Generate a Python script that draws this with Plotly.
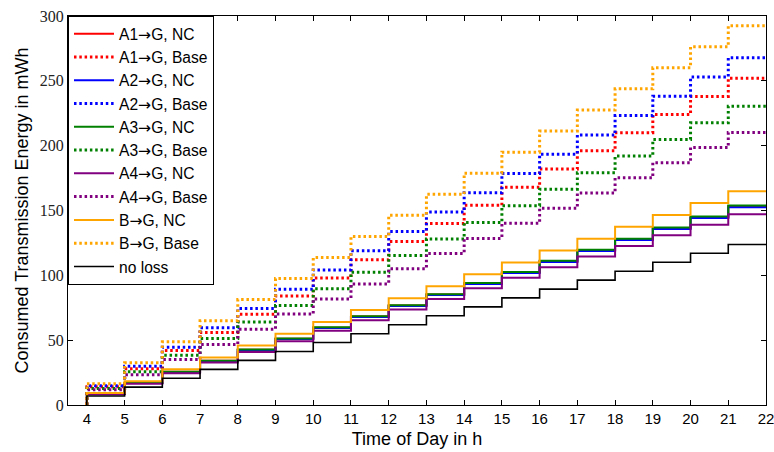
import plotly.graph_objects as go

# Hour of day at each step edge (the first entry is the start at 4 h with zero energy)
hours = [4, 5, 6, 7, 8, 9, 10, 11, 12, 13, 14, 15, 16, 17, 18, 19, 20, 21, 22]

# Cumulative consumed transmission energy in mWh, one value per hour interval
a1_nc = [0, 8.5, 17.0, 25.6, 34.1, 42.6, 51.1, 59.6, 68.2, 76.7, 85.2, 93.7, 102.2, 110.8, 119.3, 127.8, 136.3, 144.8, 153.4]
a1_base = [0, 14.0, 28.0, 42.0, 56.0, 70.0, 84.0, 98.0, 112.0, 126.0, 140.0, 154.0, 168.0, 182.0, 196.0, 210.0, 224.0, 238.0, 252.0]
a2_nc = [0, 8.5, 17.0, 25.4, 33.9, 42.4, 50.9, 59.4, 67.8, 76.3, 84.8, 93.3, 101.8, 110.2, 118.7, 127.2, 135.7, 144.2, 152.6]
a2_base = [0, 14.9, 29.8, 44.6, 59.5, 74.4, 89.3, 104.2, 119.0, 133.9, 148.8, 163.7, 178.6, 193.4, 208.3, 223.2, 238.1, 253.0, 267.8]
a3_nc = [0, 8.6, 17.1, 25.7, 34.2, 42.8, 51.3, 59.9, 68.4, 77.0, 85.5, 94.1, 102.6, 111.2, 119.7, 128.3, 136.8, 145.4, 153.9]
a3_base = [0, 12.8, 25.6, 38.4, 51.2, 64.0, 76.8, 89.6, 102.4, 115.2, 128.0, 140.8, 153.6, 166.4, 179.2, 192.0, 204.8, 217.6, 230.4]
a4_nc = [0, 8.2, 16.4, 24.5, 32.7, 40.9, 49.1, 57.3, 65.4, 73.6, 81.8, 90.0, 98.2, 106.3, 114.5, 122.7, 130.9, 139.1, 147.2]
a4_base = [0, 11.7, 23.4, 35.0, 46.7, 58.4, 70.1, 81.8, 93.4, 105.1, 116.8, 128.5, 140.2, 151.8, 163.5, 175.2, 186.9, 198.6, 210.2]
b_nc = [0, 9.2, 18.3, 27.5, 36.6, 45.8, 55.0, 64.1, 73.3, 82.4, 91.6, 100.8, 109.9, 119.1, 128.2, 137.4, 146.6, 155.7, 164.9]
b_base = [0, 16.3, 32.5, 48.8, 65.0, 81.3, 97.5, 113.8, 130.0, 146.3, 162.5, 178.8, 195.0, 211.3, 227.5, 243.8, 260.0, 276.3, 292.5]
no_loss = [0, 6.9, 13.8, 20.6, 27.5, 34.4, 41.3, 48.2, 55.0, 61.9, 68.8, 75.7, 82.6, 89.4, 96.3, 103.2, 110.1, 117.0, 123.8]

# Wider arrow glyph for the legend labels
ARROW = "<span style='font-family:DejaVu Sans'>\u2192</span>"

series = [
    ("A1" + ARROW + "G, NC", a1_nc, "#ff0000", "solid"),
    ("A1" + ARROW + "G, Base", a1_base, "#ff0000", "dot"),
    ("A2" + ARROW + "G, NC", a2_nc, "#0000ff", "solid"),
    ("A2" + ARROW + "G, Base", a2_base, "#0000ff", "dot"),
    ("A3" + ARROW + "G, NC", a3_nc, "#008000", "solid"),
    ("A3" + ARROW + "G, Base", a3_base, "#008000", "dot"),
    ("A4" + ARROW + "G, NC", a4_nc, "#800080", "solid"),
    ("A4" + ARROW + "G, Base", a4_base, "#800080", "dot"),
    ("B" + ARROW + "G, NC", b_nc, "#ffa500", "solid"),
    ("B" + ARROW + "G, Base", b_base, "#ffa500", "dot"),
    ("no loss", no_loss, "#000000", "solid"),
]

fig = go.Figure()
for name, values, color, style in series:
    if style == "dot":
        line = dict(color=color, width=3, dash="2.5px,2.8px", shape="vh")
    else:
        line = dict(color=color, width=2 if color != "#000000" else 1.6, shape="vh")
    fig.add_trace(go.Scatter(x=hours, y=values, mode="lines", name=name, line=line))

axis_common = dict(
    showline=True, linecolor="black", linewidth=1.2, mirror="ticks",
    ticks="inside", ticklen=5, tickcolor="black", tickwidth=1,
    showgrid=False, zeroline=False, automargin=False, ticklabeloverflow="allow",
)

fig.update_layout(
    width=774, height=452,
    margin=dict(l=68, r=8, t=16, b=47),
    paper_bgcolor="white", plot_bgcolor="white",
    font=dict(family="Liberation Sans, Arial, sans-serif", color="black", size=15),
    xaxis=dict(
        range=[3.5, 22], tickmode="linear", tick0=4, dtick=1,
        tickfont=dict(family="Liberation Sans, Arial, sans-serif", size=15),
        title=dict(text="Time of Day in h", font=dict(size=18), standoff=6),
        **axis_common,
    ),
    yaxis=dict(
        range=[0, 300], tickmode="linear", tick0=0, dtick=50,
        tickfont=dict(family="Liberation Serif, Times New Roman, serif", size=16, color="#222"),
        title=dict(text="Consumed Transmission Energy in mWh", font=dict(size=18), standoff=6),
        **axis_common,
    ),
    legend=dict(
        x=0, y=1, xanchor="left", yanchor="top",
        bgcolor="white", bordercolor="black", borderwidth=1,
        font=dict(family="Liberation Sans, Arial, sans-serif", size=15.6),
        tracegroupgap=0, itemwidth=40,
    ),
    showlegend=True,
)

fig.write_html("out.html")
